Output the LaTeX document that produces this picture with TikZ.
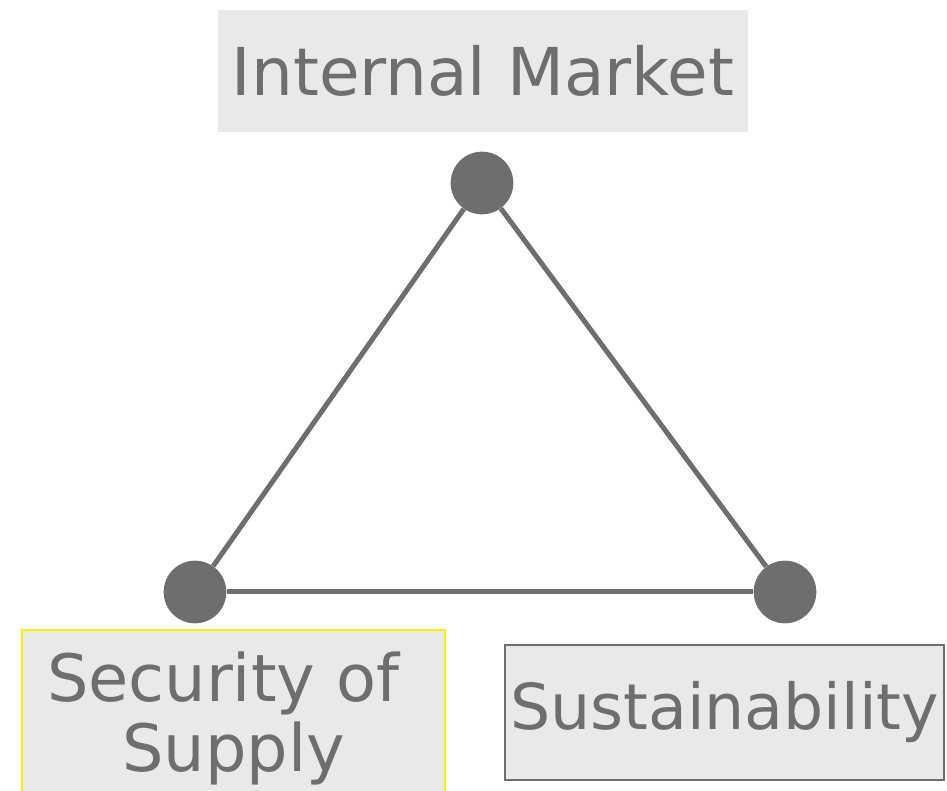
\documentclass[tikz,border=0pt]{standalone}
\usepackage{fontspec}
\setmainfont{DejaVu Sans}
\usepackage{xcolor}
\usetikzlibrary{positioning}
\definecolor{pillar}{HTML}{6E6E6E}
\definecolor{boxfill}{HTML}{E9E9E9}

\begin{document}
\begin{tikzpicture}[x=0.75pt, y=-0.75pt,
        dot/.style={circle, fill=pillar, minimum size=47pt, inner sep=0pt},
        edge/.style={draw=pillar, line width=3.75pt},
        pillarbox/.style={fill=boxfill, text=pillar, inner sep=0pt, align=center,
            font=\fontsize{47.5}{52.5}\selectfont},
        ]
        \useasboundingbox (0,0) rectangle (947,791);

        % 三个端点
        \node[dot] (market) at (482,183) {};
        \node[dot] (supply) at (195,592) {};
        \node[dot] (sustain) at (785,592) {};

        \draw[edge] (market) -- (supply);
        \draw[edge] (market) -- (sustain);
        \draw[edge] (supply) -- (sustain);

        % 标签
        \node[pillarbox, minimum width=397.5pt, minimum height=91.5pt,
            font=\fontsize{49.5}{52.5}\selectfont] (marketbox) at (483,71) {Internal Market};
        \node[pillarbox, draw=yellow, line width=1.5pt, minimum width=317pt, minimum height=132pt,
            font=\fontsize{49}{52.5}\selectfont] (supplybox) at (233.5,718) {Security of\kern.32em\\Supply};
        \node[pillarbox, draw=pillar, line width=1.2pt, minimum width=329pt, minimum height=101pt] (sustainbox) at (724.5,712.5) {Sustainability};

\end{tikzpicture}
\end{document}
